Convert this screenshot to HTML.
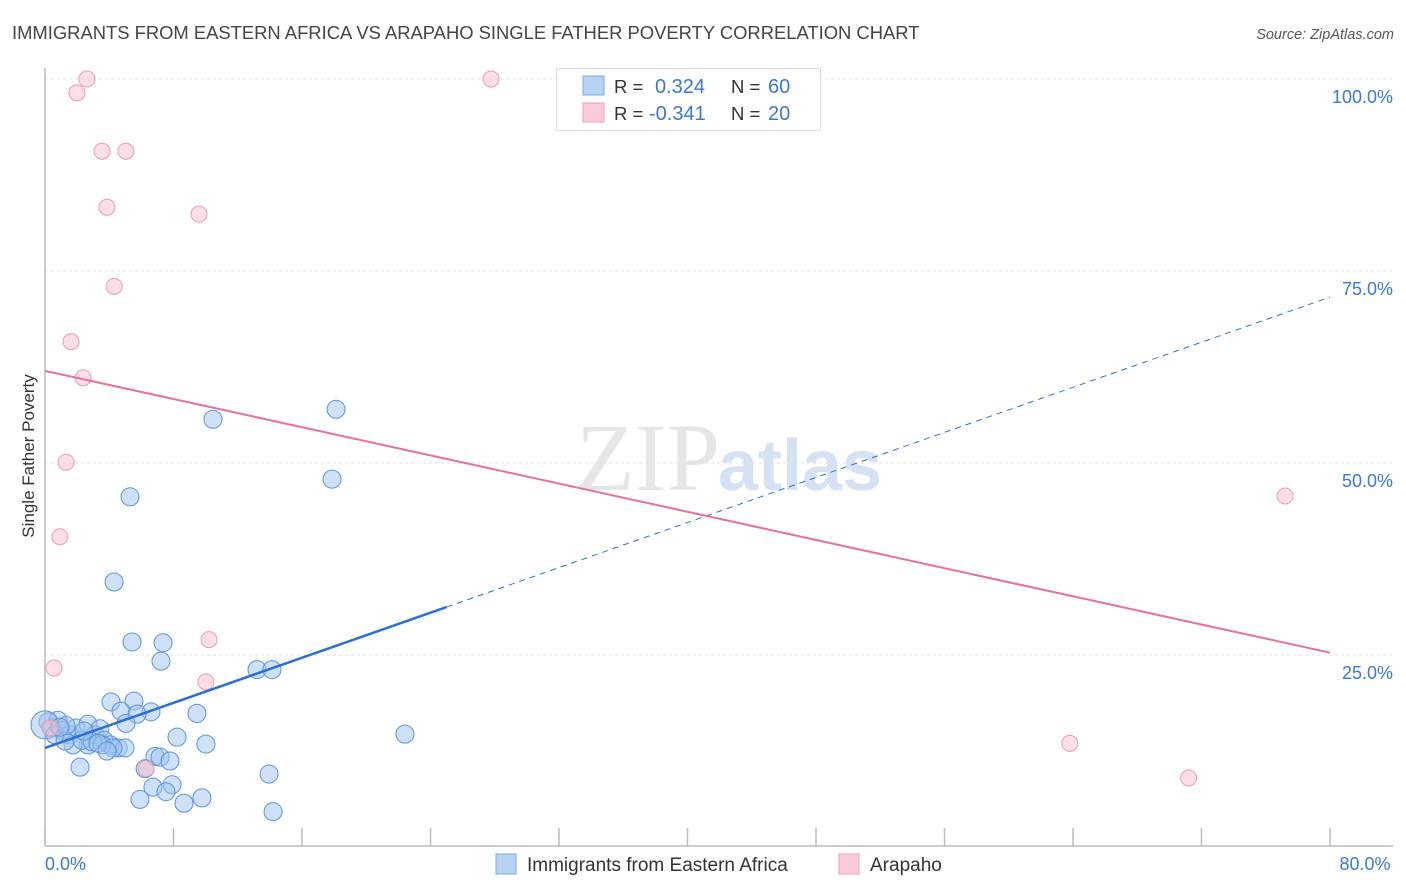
<!DOCTYPE html>
<html><head><meta charset="utf-8">
<style>
body{margin:0;background:#fff;font-family:"Liberation Sans",sans-serif;}
svg{display:block}
</style></head>
<body>
<svg id="chart" width="1406" height="892">
<text x="12" y="39" font-size="18.4" fill="#444">IMMIGRANTS FROM EASTERN AFRICA VS ARAPAHO SINGLE FATHER POVERTY CORRELATION CHART</text>
<text x="1394" y="39" font-size="14.5" fill="#555" font-style="italic" text-anchor="end">Source: ZipAtlas.com</text>
<text x="34" y="456" font-size="17" fill="#333" text-anchor="middle" transform="rotate(-90 34 456)">Single Father Poverty</text>
<text x="720" y="490" font-size="96" fill="#e6e6e6" text-anchor="end" font-family="Liberation Serif, serif">ZIP</text>
<text x="718" y="490" font-size="72" fill="#d4e2f4" font-weight="bold">atlas</text>
<g id="grid"></g>
<g id="axes"></g>
<g id="pts"></g>
<g id="trend"></g>
<g>
<rect x="556.5" y="68.5" width="264" height="62" fill="#fff" stroke="#ddd"/>
<rect x="583" y="76" width="21" height="19" fill="#b8d2f4" stroke="#7aa8e4"/>
<rect x="583" y="103" width="21" height="19" fill="#fbcbd8" stroke="#eba2b8"/>
<text x="614" y="93" font-size="18.5" fill="#333">R = </text><text x="655" y="93" font-size="20" fill="#3a78d4">0.324</text>
<text x="731" y="93" font-size="18.5" fill="#333">N = </text><text x="768" y="93" font-size="20" fill="#3a78d4">60</text>
<text x="614" y="120" font-size="18.5" fill="#333">R = </text><text x="649" y="120" font-size="20" fill="#3a78d4">-0.341</text>
<text x="731" y="120" font-size="18.5" fill="#333">N = </text><text x="768" y="120" font-size="20" fill="#3a78d4">20</text>
</g>
<g>
<rect x="496" y="854" width="20" height="20" fill="#b8d2f4" stroke="#7aa8e4"/>
<text x="527" y="871" font-size="19" fill="#333">Immigrants from Eastern Africa</text>
<rect x="839" y="854" width="20" height="20" fill="#fbcbd8" stroke="#eba2b8"/>
<text x="870" y="871" font-size="19" fill="#333">Arapaho</text>
</g>
</svg>
<script>
const seriesNames=["Immigrants from Eastern Africa","Arapaho"];
const yTicks=[25,50,75,100];
const yTickLabels=["25.0%","50.0%","75.0%","100.0%"];
const xTickLabels=["0.0%","80.0%"];
const blueX=[10.46,18.12,17.87,5.29,4.30,5.42,7.35,7.22,13.20,14.13,4.11,5.54,4.73,6.60,5.73,5.04,9.46,22.41,8.22,10.02,0.19,0.44,0.81,1.06,1.56,1.93,2.68,3.11,3.42,3.67,4.05,4.55,4.98,2.68,1.74,2.18,6.85,7.16,6.23,7.78,13.95,7.91,6.72,7.53,5.91,8.65,9.77,14.20,0,0.62,1.25,2.30,2.93,3.55,4.23,1.31,0.93,3.30,2.43,3.86];
const blueY=[55.7,57.0,47.9,45.6,34.5,26.7,26.6,24.2,23.1,23.1,18.9,19.0,17.7,17.6,17.3,16.1,17.4,14.7,14.3,13.4,16.3,15.5,16.5,15.2,14.6,15.5,16.0,14.6,15.4,13.9,13.3,12.9,12.9,13.3,13.3,10.4,11.8,11.7,10.2,11.2,9.5,8.1,7.8,7.2,6.2,5.7,6.4,4.6,15.9,14.6,13.8,13.9,13.7,13.3,12.9,15.8,15.6,13.5,15.1,12.5];
const pinkX=[2.61,27.77,1.99,3.55,5.04,3.86,9.59,4.30,1.62,2.37,1.31,0.93,0.56,10.21,10.02,6.29,77.2,63.8,71.2,0.31];
const pinkY=[100,100,98.2,90.6,90.6,83.3,82.4,73.0,65.8,61.1,50.1,40.4,23.3,27.0,21.5,10.2,45.7,13.5,9.0,15.5];
const blueTrend=[12.9,71.6];
const pinkTrend=[62.0,25.3];
const blueSolidEnd=25;

const NS="http://www.w3.org/2000/svg";
const X0=45,X1=1330,Y0=847,Y1=79;
function sx(v){return X0+(v/80)*(X1-X0);}
function sy(v){return Y0-(v/100)*(Y0-Y1);}
function mk(tag,attrs,parent){const e=document.createElementNS(NS,tag);for(const k in attrs)e.setAttribute(k,attrs[k]);parent.appendChild(e);return e;}
const grid=document.getElementById('grid'),axes=document.getElementById('axes'),pts=document.getElementById('pts'),trend=document.getElementById('trend');
yTicks.forEach((t,i)=>{
  const l=mk('line',{x1:X0,x2:1393,y1:sy(t),y2:sy(t),stroke:'#e2e2e2','stroke-dasharray':'3,3'},grid);
  
  
  const tx=mk('text',{x:1393,y:sy(t)+24,'font-size':18,fill:'#3a78d4','text-anchor':'end'},axes);
  tx.textContent=yTickLabels[i];
  
  
});
const ya=mk('line',{x1:X0,x2:X0,y1:68,y2:846,stroke:'#bbb','stroke-width':1.5},axes);


const xa=mk('line',{x1:X0,x2:1393,y1:846,y2:846,stroke:'#bbb','stroke-width':1.5},axes);


for(let i=0;i<=10;i++){
  const t=mk('line',{x1:sx(i*8),x2:sx(i*8),y1:828,y2:846,stroke:'#bbb','stroke-width':1.5},axes);
  
  
}
[[0,'start',X0],[80,'middle',1365]].forEach((a,i)=>{
  const tx=mk('text',{x:a[2],y:870,'font-size':18,fill:'#3a78d4','text-anchor':a[1]},axes);
  tx.textContent=xTickLabels[i];
  
  
});
blueX.forEach((x,i)=>{
  const c=mk('circle',{cx:sx(x),cy:sy(blueY[i]),r:(x===0?14:9),fill:'rgba(160,196,240,0.5)',stroke:'#5b93dc','stroke-width':1},pts);
  
  
});
pinkX.forEach((x,i)=>{
  const c=mk('circle',{cx:sx(x),cy:sy(pinkY[i]),r:8,fill:'rgba(248,190,205,0.5)',stroke:'#eb9ab2','stroke-width':1},pts);
  
  
});
function by(x){return blueTrend[0]+(blueTrend[1]-blueTrend[0])*x/80;}
const bs=mk('line',{x1:sx(0),y1:sy(by(0)),x2:sx(blueSolidEnd),y2:sy(by(blueSolidEnd)),stroke:'#2a6fd6','stroke-width':2.5},trend);


const bd=mk('line',{x1:sx(blueSolidEnd),y1:sy(by(blueSolidEnd)),x2:sx(80),y2:sy(by(80)),stroke:'#2a6fd6','stroke-width':1,'stroke-dasharray':'6,5'},trend);


const pl=mk('line',{x1:sx(0),y1:sy(pinkTrend[0]),x2:sx(80),y2:sy(pinkTrend[1]),stroke:'#e8709a','stroke-width':2},trend);


</script>
</body></html>
